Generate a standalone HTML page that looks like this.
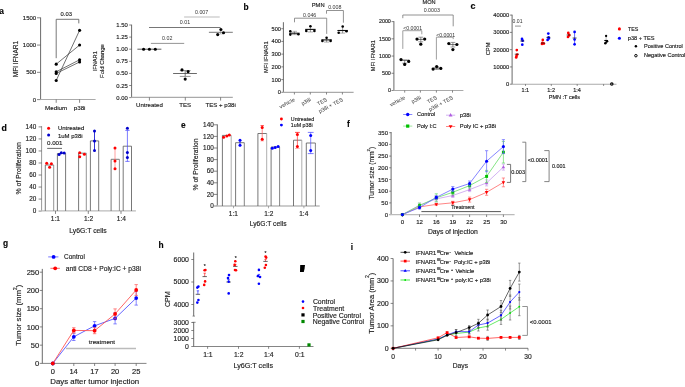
<!DOCTYPE html>
<html><head><meta charset="utf-8"><style>
html,body{margin:0;padding:0;background:#fff;overflow:hidden;}
svg{display:block;font-family:"Liberation Sans", sans-serif;filter:blur(0.3px);}
text{stroke:#222;stroke-width:0.15px;}
text.l{stroke:none;}
</style></head><body>
<svg width="685" height="387" viewBox="0 0 685 387">
<rect width="685" height="387" fill="#fff"/>
<text x="-0.68" y="13.67" font-size="8.4" font-weight="bold" fill="#000">a</text>
<text x="243.53" y="10" font-size="8.4" font-weight="bold" fill="#000">b</text>
<text x="470.4" y="8.73" font-size="9" font-weight="bold" fill="#000">c</text>
<text x="1.47" y="131.25" font-size="8.8" font-weight="bold" fill="#000">d</text>
<text x="180.94" y="128.12" font-size="8.4" font-weight="bold" fill="#000">e</text>
<text x="346.97" y="127.45" font-size="8.4" font-weight="bold" fill="#000">f</text>
<text x="2.99" y="245.62" font-size="8.4" font-weight="bold" fill="#000">g</text>
<text x="158.45" y="247.94" font-size="8.4" font-weight="bold" fill="#000">h</text>
<text x="350.84" y="249.59" font-size="8.4" font-weight="bold" fill="#000">i</text>
<line x1="40.6" y1="99.6" x2="40.6" y2="17.5" stroke="#444" stroke-width="0.8"/>
<line x1="37" y1="99.6" x2="40.6" y2="99.6" stroke="#555" stroke-width="0.7"/>
<text x="32.85" y="101.67" font-size="6" fill="#222">0</text>
<line x1="37" y1="72.33" x2="40.6" y2="72.33" stroke="#555" stroke-width="0.7"/>
<text x="26.18" y="74.4" font-size="6" fill="#222">500</text>
<line x1="37" y1="45.07" x2="40.6" y2="45.07" stroke="#555" stroke-width="0.7"/>
<text x="22.84" y="47.14" font-size="6" fill="#222">1000</text>
<line x1="37" y1="17.8" x2="40.6" y2="17.8" stroke="#555" stroke-width="0.7"/>
<text x="22.84" y="19.87" font-size="6" fill="#222">1500</text>
<line x1="40.2" y1="99.5" x2="95.6" y2="99.5" stroke="#aaa" stroke-width="1.1"/>
<line x1="56.2" y1="99.5" x2="56.2" y2="102.8" stroke="#555" stroke-width="0.7"/>
<line x1="79.6" y1="99.5" x2="79.6" y2="102.8" stroke="#555" stroke-width="0.7"/>
<text x="45.03" y="110.11" font-size="6.25" fill="#222">Medium</text>
<text x="73.7" y="110.11" font-size="6.25" fill="#222">p38i</text>
<text x="0" y="0" font-size="6.58" fill="#222" transform="translate(18.12 77.29) rotate(-90)">MFI IFNAR1</text>
<path d="M56.2 58.2 V19.3 H78.8 V23.4" stroke="#555" stroke-width="0.8" fill="none"/>
<text x="60.62" y="15.77" font-size="5.85" fill="#222">0.03</text>
<line x1="56.2" y1="64.15" x2="79.6" y2="45.07" stroke="#333" stroke-width="0.7"/>
<line x1="56.2" y1="71.79" x2="79.6" y2="59.79" stroke="#333" stroke-width="0.7"/>
<line x1="56.2" y1="73.42" x2="79.6" y2="61.97" stroke="#333" stroke-width="0.7"/>
<line x1="56.2" y1="80.51" x2="79.6" y2="30.34" stroke="#333" stroke-width="0.7"/>
<circle cx="56.2" cy="64.15" r="1.55" fill="#000" stroke="none" stroke-width="0"/>
<circle cx="56.2" cy="71.79" r="1.55" fill="#000" stroke="none" stroke-width="0"/>
<circle cx="56.2" cy="73.42" r="1.55" fill="#000" stroke="none" stroke-width="0"/>
<circle cx="56.2" cy="80.51" r="1.55" fill="#000" stroke="none" stroke-width="0"/>
<circle cx="79.6" cy="45.07" r="1.55" fill="#000" stroke="none" stroke-width="0"/>
<circle cx="79.6" cy="59.79" r="1.55" fill="#000" stroke="none" stroke-width="0"/>
<circle cx="79.6" cy="61.97" r="1.55" fill="#000" stroke="none" stroke-width="0"/>
<circle cx="79.6" cy="30.34" r="1.55" fill="#000" stroke="none" stroke-width="0"/>
<line x1="131.6" y1="97.5" x2="131.6" y2="24.7" stroke="#444" stroke-width="0.8"/>
<line x1="129.2" y1="97.6" x2="131.6" y2="97.6" stroke="#555" stroke-width="0.7"/>
<text x="116.3" y="99.64" font-size="5.9" fill="#222">0.00</text>
<line x1="129.2" y1="85.5" x2="131.6" y2="85.5" stroke="#555" stroke-width="0.7"/>
<text x="116.32" y="87.54" font-size="5.9" fill="#222">0.25</text>
<line x1="129.2" y1="73.4" x2="131.6" y2="73.4" stroke="#555" stroke-width="0.7"/>
<text x="116.3" y="75.44" font-size="5.9" fill="#222">0.50</text>
<line x1="129.2" y1="61.3" x2="131.6" y2="61.3" stroke="#555" stroke-width="0.7"/>
<text x="116.32" y="63.34" font-size="5.9" fill="#222">0.75</text>
<line x1="129.2" y1="49.2" x2="131.6" y2="49.2" stroke="#555" stroke-width="0.7"/>
<text x="116.3" y="51.24" font-size="5.9" fill="#222">1.00</text>
<line x1="129.2" y1="37.1" x2="131.6" y2="37.1" stroke="#555" stroke-width="0.7"/>
<text x="116.32" y="39.14" font-size="5.9" fill="#222">1.25</text>
<line x1="129.2" y1="25" x2="131.6" y2="25" stroke="#555" stroke-width="0.7"/>
<text x="116.3" y="27.04" font-size="5.9" fill="#222">1.50</text>
<line x1="131.2" y1="97.4" x2="232.8" y2="97.4" stroke="#aaa" stroke-width="1.1"/>
<line x1="149.4" y1="97.4" x2="149.4" y2="100.6" stroke="#555" stroke-width="0.7"/>
<line x1="185.3" y1="97.4" x2="185.3" y2="100.6" stroke="#555" stroke-width="0.7"/>
<line x1="220.6" y1="97.4" x2="220.6" y2="100.6" stroke="#555" stroke-width="0.7"/>
<text x="136.07" y="106.85" font-size="6.1" fill="#222">Untreated</text>
<text x="179.34" y="106.85" font-size="6.1" fill="#222">TES</text>
<text x="205.56" y="106.85" font-size="6.1" fill="#222">TES + p38i</text>
<text x="0" y="0" font-size="5.65" fill="#222" transform="translate(96.55 71.27) rotate(-90)">IFNAR1</text>
<text x="0" y="0" font-size="5.91" fill="#222" transform="translate(103.54 77.93) rotate(-90)">Fold Change</text>
<line x1="137.4" y1="49.2" x2="161.4" y2="49.2" stroke="#333" stroke-width="0.8"/>
<circle cx="143.6" cy="49.2" r="1.55" fill="#000" stroke="none" stroke-width="0"/>
<circle cx="149.4" cy="49.2" r="1.55" fill="#000" stroke="none" stroke-width="0"/>
<circle cx="155.3" cy="49.2" r="1.55" fill="#000" stroke="none" stroke-width="0"/>
<line x1="173.1" y1="73.5" x2="196.9" y2="73.5" stroke="#444" stroke-width="0.8"/>
<line x1="185.2" y1="70.6" x2="185.2" y2="76.4" stroke="#444" stroke-width="0.7"/>
<line x1="179.8" y1="70.6" x2="190.6" y2="70.6" stroke="#666" stroke-width="0.7"/>
<line x1="179.8" y1="76.4" x2="190.6" y2="76.4" stroke="#666" stroke-width="0.7"/>
<circle cx="182" cy="69.9" r="1.55" fill="#000" stroke="none" stroke-width="0"/>
<circle cx="188.1" cy="71.6" r="1.55" fill="#000" stroke="none" stroke-width="0"/>
<circle cx="185.2" cy="79.1" r="1.55" fill="#000" stroke="none" stroke-width="0"/>
<line x1="208.9" y1="32.3" x2="232.8" y2="32.3" stroke="#555" stroke-width="0.8"/>
<line x1="220.6" y1="30.8" x2="220.6" y2="34" stroke="#888" stroke-width="0.6"/>
<line x1="218" y1="34" x2="223.2" y2="34" stroke="#bbb" stroke-width="0.7"/>
<circle cx="220.9" cy="29.5" r="1.55" fill="#000" stroke="none" stroke-width="0"/>
<circle cx="217.7" cy="34.6" r="1.55" fill="#000" stroke="none" stroke-width="0"/>
<circle cx="223.5" cy="32.7" r="1.55" fill="#000" stroke="none" stroke-width="0"/>
<line x1="150.9" y1="43.4" x2="184.2" y2="43.4" stroke="#888" stroke-width="0.9"/>
<text x="162.07" y="40.28" font-size="5.3" fill="#333" class="l">0.02</text>
<line x1="149" y1="27.5" x2="220.6" y2="27.5" stroke="#666" stroke-width="0.9"/>
<text x="179.77" y="24.33" font-size="5.3" fill="#333" class="l">0.01</text>
<line x1="184.1" y1="17" x2="219.7" y2="17" stroke="#bbb" stroke-width="1.1"/>
<text x="195" y="14.13" font-size="5.3" fill="#333" class="l">0.007</text>
<line x1="283.4" y1="92.4" x2="283.4" y2="22.2" stroke="#444" stroke-width="0.8"/>
<line x1="281.3" y1="92.3" x2="283.4" y2="92.3" stroke="#555" stroke-width="0.7"/>
<text x="277.75" y="94.23" font-size="5.6" fill="#222">0</text>
<line x1="281.3" y1="79.58" x2="283.4" y2="79.58" stroke="#555" stroke-width="0.7"/>
<text x="271.53" y="81.51" font-size="5.6" fill="#222">100</text>
<line x1="281.3" y1="66.86" x2="283.4" y2="66.86" stroke="#555" stroke-width="0.7"/>
<text x="271.53" y="68.79" font-size="5.6" fill="#222">200</text>
<line x1="281.3" y1="54.14" x2="283.4" y2="54.14" stroke="#555" stroke-width="0.7"/>
<text x="271.53" y="56.07" font-size="5.6" fill="#222">300</text>
<line x1="281.3" y1="41.42" x2="283.4" y2="41.42" stroke="#555" stroke-width="0.7"/>
<text x="271.53" y="43.35" font-size="5.6" fill="#222">400</text>
<line x1="281.3" y1="28.7" x2="283.4" y2="28.7" stroke="#555" stroke-width="0.7"/>
<text x="271.53" y="30.63" font-size="5.6" fill="#222">500</text>
<line x1="283" y1="92.4" x2="353.6" y2="92.4" stroke="#aaa" stroke-width="1.1"/>
<line x1="294.4" y1="92.4" x2="294.4" y2="94.5" stroke="#555" stroke-width="0.7"/>
<line x1="310.3" y1="92.4" x2="310.3" y2="94.5" stroke="#555" stroke-width="0.7"/>
<line x1="326.5" y1="92.4" x2="326.5" y2="94.5" stroke="#555" stroke-width="0.7"/>
<line x1="342.4" y1="92.4" x2="342.4" y2="94.5" stroke="#555" stroke-width="0.7"/>
<text x="0" y="0" font-size="5.7" fill="#222" transform="translate(267.62 73.02) rotate(-90)">MFI IFNAR1</text>
<text x="311.78" y="7.29" font-size="5.78" fill="#222">PMN</text>
<text x="-16.57" y="0" font-size="5.4" fill="#333" transform="translate(295.2 100.9) rotate(-28)" class="l">vehicle</text>
<text x="-9.84" y="0" font-size="5.4" fill="#333" transform="translate(311.1 100.9) rotate(-28)" class="l">p38i</text>
<text x="-10.25" y="0" font-size="5.4" fill="#333" transform="translate(327.3 100.9) rotate(-28)" class="l">TES</text>
<text x="-26.52" y="0" font-size="5.4" fill="#333" transform="translate(343.2 100.9) rotate(-28)" class="l">p38i + TES</text>
<path d="M294.5 22.3 V18.2 H326.7 V33.9" stroke="#777" stroke-width="0.8" fill="none"/>
<text x="303.03" y="16.58" font-size="5.3" fill="#333" class="l">0.046</text>
<path d="M326.5 13.7 V10.5 H343.4 V22.7" stroke="#777" stroke-width="0.8" fill="none"/>
<text x="328.18" y="9.28" font-size="5.3" fill="#333" class="l">0.008</text>
<line x1="294.4" y1="31.3" x2="294.4" y2="34.6" stroke="#555" stroke-width="0.6"/>
<line x1="291.8" y1="34.6" x2="297" y2="34.6" stroke="#777" stroke-width="0.6"/>
<line x1="289.2" y1="33.2" x2="299.6" y2="33.2" stroke="#111" stroke-width="1.1"/>
<circle cx="290.3" cy="31.3" r="1.3" fill="#000" stroke="none" stroke-width="0"/>
<circle cx="290.3" cy="34.6" r="1.3" fill="#000" stroke="none" stroke-width="0"/>
<circle cx="298.4" cy="34.2" r="1.3" fill="#000" stroke="none" stroke-width="0"/>
<line x1="292.5" y1="31.3" x2="297" y2="31.3" stroke="#888" stroke-width="0.6"/>
<line x1="310.4" y1="26.3" x2="310.4" y2="32" stroke="#555" stroke-width="0.6"/>
<line x1="307.8" y1="32" x2="313" y2="32" stroke="#777" stroke-width="0.6"/>
<line x1="305.2" y1="29.4" x2="315.6" y2="29.4" stroke="#111" stroke-width="1.1"/>
<circle cx="310.4" cy="26.3" r="1.3" fill="#000" stroke="none" stroke-width="0"/>
<circle cx="306.3" cy="30.9" r="1.3" fill="#000" stroke="none" stroke-width="0"/>
<circle cx="314.4" cy="30.9" r="1.3" fill="#000" stroke="none" stroke-width="0"/>
<line x1="326.6" y1="37.8" x2="326.6" y2="42.1" stroke="#555" stroke-width="0.6"/>
<line x1="324" y1="42.1" x2="329.2" y2="42.1" stroke="#777" stroke-width="0.6"/>
<line x1="321.4" y1="39.9" x2="331.8" y2="39.9" stroke="#111" stroke-width="1.1"/>
<circle cx="326.6" cy="37.8" r="1.3" fill="#000" stroke="none" stroke-width="0"/>
<circle cx="322.4" cy="40.9" r="1.3" fill="#000" stroke="none" stroke-width="0"/>
<circle cx="330.6" cy="40.9" r="1.3" fill="#000" stroke="none" stroke-width="0"/>
<line x1="342.6" y1="26.5" x2="342.6" y2="33.1" stroke="#555" stroke-width="0.6"/>
<line x1="340" y1="33.1" x2="345.2" y2="33.1" stroke="#777" stroke-width="0.6"/>
<line x1="337.4" y1="30.5" x2="347.8" y2="30.5" stroke="#111" stroke-width="1.1"/>
<circle cx="342.7" cy="26.5" r="1.3" fill="#000" stroke="none" stroke-width="0"/>
<circle cx="338.7" cy="32.8" r="1.3" fill="#000" stroke="none" stroke-width="0"/>
<circle cx="346.5" cy="31.2" r="1.3" fill="#000" stroke="none" stroke-width="0"/>
<line x1="393.9" y1="90.5" x2="393.9" y2="21.2" stroke="#444" stroke-width="0.8"/>
<line x1="391.5" y1="90.5" x2="393.9" y2="90.5" stroke="#555" stroke-width="0.7"/>
<text x="387.88" y="92.35" font-size="5.35" fill="#222">0</text>
<line x1="391.5" y1="73.28" x2="393.9" y2="73.28" stroke="#555" stroke-width="0.7"/>
<text x="381.93" y="75.12" font-size="5.35" fill="#222">500</text>
<line x1="391.5" y1="56.05" x2="393.9" y2="56.05" stroke="#555" stroke-width="0.7"/>
<text x="378.96" y="57.9" font-size="5.35" fill="#222">1000</text>
<line x1="391.5" y1="38.82" x2="393.9" y2="38.82" stroke="#555" stroke-width="0.7"/>
<text x="378.96" y="40.67" font-size="5.35" fill="#222">1500</text>
<line x1="391.5" y1="21.6" x2="393.9" y2="21.6" stroke="#555" stroke-width="0.7"/>
<text x="378.96" y="23.45" font-size="5.35" fill="#222">2000</text>
<line x1="393.5" y1="90.5" x2="463.4" y2="90.5" stroke="#aaa" stroke-width="1.1"/>
<line x1="404.7" y1="90.5" x2="404.7" y2="92.6" stroke="#555" stroke-width="0.7"/>
<line x1="420.4" y1="90.5" x2="420.4" y2="92.6" stroke="#555" stroke-width="0.7"/>
<line x1="436.4" y1="90.5" x2="436.4" y2="92.6" stroke="#555" stroke-width="0.7"/>
<line x1="452.5" y1="90.5" x2="452.5" y2="92.6" stroke="#555" stroke-width="0.7"/>
<text x="0" y="0" font-size="5.59" fill="#222" transform="translate(374.88 71.21) rotate(-90)">MFI IFNAR1</text>
<text x="422.59" y="3.92" font-size="5.58" fill="#222">MON</text>
<text x="-16.57" y="0" font-size="5.4" fill="#333" transform="translate(405.5 99) rotate(-28)" class="l">vehicle</text>
<text x="-9.84" y="0" font-size="5.4" fill="#333" transform="translate(421.2 99) rotate(-28)" class="l">p38i</text>
<text x="-10.25" y="0" font-size="5.4" fill="#333" transform="translate(437.2 99) rotate(-28)" class="l">TES</text>
<text x="-26.52" y="0" font-size="5.4" fill="#333" transform="translate(453.3 99) rotate(-28)" class="l">p38i + TES</text>
<path d="M402.8 18.2 V15.0 H453.2 V26.3" stroke="#777" stroke-width="0.8" fill="none"/>
<text x="423.71" y="12.23" font-size="5.3" fill="#333" class="l">0.0003</text>
<path d="M402.8 48.9 V30.7 H421.8 V34.3" stroke="#888" stroke-width="0.8" fill="none"/>
<text x="403.23" y="30.09" font-size="5.2" fill="#333" class="l">&lt;0.0001</text>
<path d="M436.4 59.6 V37.2 H453.2 V39.1" stroke="#888" stroke-width="0.8" fill="none"/>
<text x="436.18" y="36.99" font-size="5.2" fill="#333" class="l">&lt;0.0001</text>
<line x1="399.9" y1="60.2" x2="409.5" y2="60.2" stroke="#333" stroke-width="0.7"/>
<line x1="404.7" y1="60.2" x2="404.7" y2="63.2" stroke="#444" stroke-width="0.6"/>
<line x1="402.3" y1="60.2" x2="407.1" y2="60.2" stroke="#555" stroke-width="0.6"/>
<line x1="402.3" y1="63.2" x2="407.1" y2="63.2" stroke="#555" stroke-width="0.6"/>
<circle cx="401" cy="59.6" r="1.6" fill="#000" stroke="none" stroke-width="0"/>
<circle cx="408.7" cy="61.4" r="1.6" fill="#000" stroke="none" stroke-width="0"/>
<circle cx="404.7" cy="64.4" r="1.6" fill="#000" stroke="none" stroke-width="0"/>
<line x1="416" y1="39.4" x2="425.6" y2="39.4" stroke="#333" stroke-width="0.7"/>
<line x1="420.8" y1="37.2" x2="420.8" y2="41.8" stroke="#444" stroke-width="0.6"/>
<line x1="418.4" y1="37.2" x2="423.2" y2="37.2" stroke="#555" stroke-width="0.6"/>
<line x1="418.4" y1="41.8" x2="423.2" y2="41.8" stroke="#555" stroke-width="0.6"/>
<circle cx="417" cy="39.1" r="1.6" fill="#000" stroke="none" stroke-width="0"/>
<circle cx="424.7" cy="39.1" r="1.6" fill="#000" stroke="none" stroke-width="0"/>
<circle cx="420.8" cy="44.2" r="1.6" fill="#000" stroke="none" stroke-width="0"/>
<line x1="431.9" y1="68.2" x2="441.5" y2="68.2" stroke="#333" stroke-width="0.7"/>
<line x1="436.7" y1="67.2" x2="436.7" y2="69.4" stroke="#444" stroke-width="0.6"/>
<line x1="434.3" y1="67.2" x2="439.1" y2="67.2" stroke="#555" stroke-width="0.6"/>
<line x1="434.3" y1="69.4" x2="439.1" y2="69.4" stroke="#555" stroke-width="0.6"/>
<circle cx="433.1" cy="69.1" r="1.6" fill="#000" stroke="none" stroke-width="0"/>
<circle cx="436.7" cy="66.5" r="1.6" fill="#000" stroke="none" stroke-width="0"/>
<circle cx="440.8" cy="68.4" r="1.6" fill="#000" stroke="none" stroke-width="0"/>
<line x1="448.1" y1="44.6" x2="457.7" y2="44.6" stroke="#333" stroke-width="0.7"/>
<line x1="452.9" y1="42.4" x2="452.9" y2="47" stroke="#444" stroke-width="0.6"/>
<line x1="450.5" y1="42.4" x2="455.3" y2="42.4" stroke="#555" stroke-width="0.6"/>
<line x1="450.5" y1="47" x2="455.3" y2="47" stroke="#555" stroke-width="0.6"/>
<circle cx="448.8" cy="43.5" r="1.6" fill="#000" stroke="none" stroke-width="0"/>
<circle cx="456.9" cy="44.5" r="1.6" fill="#000" stroke="none" stroke-width="0"/>
<circle cx="452.9" cy="49.6" r="1.6" fill="#000" stroke="none" stroke-width="0"/>
<line x1="512.1" y1="84.2" x2="512.1" y2="14.7" stroke="#444" stroke-width="0.8"/>
<line x1="509.8" y1="84.2" x2="512.1" y2="84.2" stroke="#555" stroke-width="0.7"/>
<text x="506.08" y="86.18" font-size="5.75" fill="#222">0</text>
<line x1="509.8" y1="66.93" x2="512.1" y2="66.93" stroke="#555" stroke-width="0.7"/>
<text x="493.28" y="68.91" font-size="5.75" fill="#222">10000</text>
<line x1="509.8" y1="49.65" x2="512.1" y2="49.65" stroke="#555" stroke-width="0.7"/>
<text x="493.28" y="51.63" font-size="5.75" fill="#222">20000</text>
<line x1="509.8" y1="32.38" x2="512.1" y2="32.38" stroke="#555" stroke-width="0.7"/>
<text x="493.28" y="34.36" font-size="5.75" fill="#222">30000</text>
<line x1="509.8" y1="15.1" x2="512.1" y2="15.1" stroke="#555" stroke-width="0.7"/>
<text x="493.28" y="17.08" font-size="5.75" fill="#222">40000</text>
<line x1="511.7" y1="84.2" x2="616.5" y2="84.2" stroke="#aaa" stroke-width="1.1"/>
<line x1="525.5" y1="84.2" x2="525.5" y2="85.9" stroke="#555" stroke-width="0.7"/>
<line x1="551.3" y1="84.2" x2="551.3" y2="85.9" stroke="#555" stroke-width="0.7"/>
<line x1="577.2" y1="84.2" x2="577.2" y2="85.9" stroke="#555" stroke-width="0.7"/>
<line x1="603.6" y1="84.2" x2="603.6" y2="85.9" stroke="#555" stroke-width="0.7"/>
<text x="521.5" y="92.4" font-size="5.5" fill="#222">1:1</text>
<text x="547.31" y="92.4" font-size="5.5" fill="#222">1:2</text>
<text x="573.15" y="92.4" font-size="5.5" fill="#222">1:4</text>
<text x="548.8" y="99.31" font-size="5.53" fill="#222">PMN :T cells</text>
<text x="0" y="0" font-size="5.74" fill="#222" transform="translate(489.83 55.34) rotate(-90)">CPM</text>
<text x="512.61" y="23.11" font-size="5.1" fill="#333" class="l">0.01</text>
<line x1="515" y1="26.1" x2="520.9" y2="26.1" stroke="#666" stroke-width="0.7"/>
<circle cx="516.8" cy="50.1" r="1.35" fill="#f00" stroke="none" stroke-width="0"/>
<circle cx="517.2" cy="54.5" r="1.35" fill="#f00" stroke="none" stroke-width="0"/>
<circle cx="516.5" cy="56" r="1.35" fill="#f00" stroke="none" stroke-width="0"/>
<circle cx="516.2" cy="57.4" r="1.35" fill="#f00" stroke="none" stroke-width="0"/>
<line x1="514.8" y1="54.2" x2="518.8" y2="54.2" stroke="#111" stroke-width="0.7"/>
<circle cx="522" cy="38.9" r="1.35" fill="#00f" stroke="none" stroke-width="0"/>
<circle cx="522.6" cy="40.7" r="1.35" fill="#00f" stroke="none" stroke-width="0"/>
<circle cx="522.3" cy="44.7" r="1.35" fill="#00f" stroke="none" stroke-width="0"/>
<line x1="520.3" y1="41" x2="524.3" y2="41" stroke="#111" stroke-width="0.7"/>
<circle cx="542.8" cy="39.9" r="1.35" fill="#f00" stroke="none" stroke-width="0"/>
<circle cx="542.5" cy="42.8" r="1.35" fill="#f00" stroke="none" stroke-width="0"/>
<circle cx="543.9" cy="43.6" r="1.35" fill="#f00" stroke="none" stroke-width="0"/>
<circle cx="542" cy="43.9" r="1.35" fill="#f00" stroke="none" stroke-width="0"/>
<line x1="540.9" y1="43.1" x2="544.9" y2="43.1" stroke="#111" stroke-width="0.7"/>
<circle cx="548.3" cy="33.6" r="1.35" fill="#00f" stroke="none" stroke-width="0"/>
<circle cx="548.6" cy="37.4" r="1.35" fill="#00f" stroke="none" stroke-width="0"/>
<circle cx="547.6" cy="39.9" r="1.35" fill="#00f" stroke="none" stroke-width="0"/>
<circle cx="548.9" cy="38.5" r="1.35" fill="#00f" stroke="none" stroke-width="0"/>
<line x1="546.4" y1="37.4" x2="550.4" y2="37.4" stroke="#111" stroke-width="0.7"/>
<circle cx="568.3" cy="32.9" r="1.35" fill="#f00" stroke="none" stroke-width="0"/>
<circle cx="569.1" cy="34.8" r="1.35" fill="#f00" stroke="none" stroke-width="0"/>
<circle cx="568" cy="37" r="1.35" fill="#f00" stroke="none" stroke-width="0"/>
<circle cx="569.1" cy="35.5" r="1.35" fill="#f00" stroke="none" stroke-width="0"/>
<line x1="566.6" y1="35" x2="570.6" y2="35" stroke="#111" stroke-width="0.7"/>
<line x1="574.6" y1="31.9" x2="574.6" y2="44.3" stroke="#00f" stroke-width="0.6"/>
<circle cx="574.6" cy="31.9" r="1.35" fill="#00f" stroke="none" stroke-width="0"/>
<circle cx="574.6" cy="39.5" r="1.35" fill="#00f" stroke="none" stroke-width="0"/>
<circle cx="574.6" cy="44.3" r="1.35" fill="#00f" stroke="none" stroke-width="0"/>
<line x1="572.6" y1="38" x2="576.6" y2="38" stroke="#111" stroke-width="0.7"/>
<line x1="606.1" y1="36" x2="606.1" y2="40.4" stroke="#999" stroke-width="0.6"/>
<circle cx="606.1" cy="36" r="1.15" fill="#000" stroke="none" stroke-width="0"/>
<line x1="604.3" y1="40.5" x2="607.9" y2="40.5" stroke="#000" stroke-width="1.1"/>
<line x1="607.3" y1="40.8" x2="605.3" y2="43.3" stroke="#000" stroke-width="1.5"/>
<circle cx="607.1" cy="41.3" r="1.2" fill="#000" stroke="none" stroke-width="0"/>
<circle cx="605.3" cy="43.2" r="1.25" fill="#000" stroke="none" stroke-width="0"/>
<circle cx="611.8" cy="84" r="1.75" fill="#000" stroke="none" stroke-width="0"/>
<circle cx="611.8" cy="84" r="0.6" fill="#fff" stroke="none" stroke-width="0"/>
<circle cx="619.4" cy="28.9" r="1.55" fill="#f00" stroke="none" stroke-width="0"/>
<text x="628.03" y="30.83" font-size="5.3" fill="#222">TES</text>
<circle cx="619.4" cy="38.3" r="1.55" fill="#00f" stroke="none" stroke-width="0"/>
<text x="627.78" y="40.35" font-size="5.65" fill="#222">p38 + TES</text>
<circle cx="635.9" cy="46.2" r="1.25" fill="#000" stroke="none" stroke-width="0"/>
<text x="643.99" y="47.96" font-size="5.55" fill="#222">Positive Control</text>
<circle cx="635.9" cy="55.7" r="1.25" fill="#fff" stroke="#000" stroke-width="1"/>
<text x="643.99" y="57.41" font-size="5.55" fill="#222">Negative Control</text>
<line x1="41.6" y1="210.9" x2="41.6" y2="126.1" stroke="#999" stroke-width="1"/>
<line x1="38.6" y1="211.1" x2="41.6" y2="211.1" stroke="#555" stroke-width="0.7"/>
<text x="32.74" y="213.31" font-size="6.4" fill="#222">0</text>
<line x1="38.6" y1="199.07" x2="41.6" y2="199.07" stroke="#555" stroke-width="0.7"/>
<text x="29.18" y="201.28" font-size="6.4" fill="#222">20</text>
<line x1="38.6" y1="187.04" x2="41.6" y2="187.04" stroke="#555" stroke-width="0.7"/>
<text x="29.18" y="189.25" font-size="6.4" fill="#222">40</text>
<line x1="38.6" y1="175.02" x2="41.6" y2="175.02" stroke="#555" stroke-width="0.7"/>
<text x="29.18" y="177.22" font-size="6.4" fill="#222">60</text>
<line x1="38.6" y1="162.99" x2="41.6" y2="162.99" stroke="#555" stroke-width="0.7"/>
<text x="29.18" y="165.2" font-size="6.4" fill="#222">80</text>
<line x1="38.6" y1="150.96" x2="41.6" y2="150.96" stroke="#555" stroke-width="0.7"/>
<text x="25.62" y="153.17" font-size="6.4" fill="#222">100</text>
<line x1="38.6" y1="138.93" x2="41.6" y2="138.93" stroke="#555" stroke-width="0.7"/>
<text x="25.62" y="141.14" font-size="6.4" fill="#222">120</text>
<line x1="38.6" y1="126.9" x2="41.6" y2="126.9" stroke="#555" stroke-width="0.7"/>
<text x="25.62" y="129.11" font-size="6.4" fill="#222">140</text>
<line x1="41.1" y1="210.9" x2="135.9" y2="210.9" stroke="#bbb" stroke-width="1.2"/>
<line x1="55.5" y1="210.9" x2="55.5" y2="213.9" stroke="#555" stroke-width="0.7"/>
<line x1="88.3" y1="210.9" x2="88.3" y2="213.9" stroke="#555" stroke-width="0.7"/>
<line x1="121" y1="210.9" x2="121" y2="213.9" stroke="#555" stroke-width="0.7"/>
<text x="50.72" y="221.28" font-size="6.6" fill="#222">1:1</text>
<text x="83.93" y="221.28" font-size="6.6" fill="#222">1:2</text>
<text x="116.86" y="221.28" font-size="6.6" fill="#222">1:4</text>
<text x="69.29" y="232.85" font-size="6.82" fill="#222">Ly6G:T cells</text>
<text x="0" y="0" font-size="6.87" fill="#222" transform="translate(20.87 194.4) rotate(-90)">% of Proliferation</text>
<path d="M45.3 210.9 V165 H53.7" stroke="#555" stroke-width="0.8" fill="none"/>
<line x1="53.7" y1="165" x2="53.7" y2="210.9" stroke="#777" stroke-width="0.8"/>
<path d="M57.4 210.9 V153.5 H65.6" stroke="#555" stroke-width="0.8" fill="none"/>
<line x1="65.6" y1="153.5" x2="65.6" y2="210.9" stroke="#555" stroke-width="0.8"/>
<path d="M78.6 210.9 V153.2 H86.3" stroke="#555" stroke-width="0.8" fill="none"/>
<line x1="86.3" y1="153.2" x2="86.3" y2="210.9" stroke="#777" stroke-width="0.8"/>
<path d="M90.4 210.9 V140.9 H98.7" stroke="#555" stroke-width="0.8" fill="none"/>
<line x1="98.7" y1="140.9" x2="98.7" y2="210.9" stroke="#555" stroke-width="0.8"/>
<path d="M111.1 210.9 V159.3 H119.4" stroke="#555" stroke-width="0.8" fill="none"/>
<line x1="119.4" y1="159.3" x2="119.4" y2="210.9" stroke="#777" stroke-width="0.8"/>
<path d="M123.2 210.9 V146.2 H131.5" stroke="#555" stroke-width="0.8" fill="none"/>
<line x1="131.5" y1="146.2" x2="131.5" y2="210.9" stroke="#555" stroke-width="0.8"/>
<circle cx="46.7" cy="163.3" r="1.5" fill="#f00" stroke="none" stroke-width="0"/>
<circle cx="51.4" cy="163.7" r="1.5" fill="#f00" stroke="none" stroke-width="0"/>
<circle cx="49.6" cy="167.3" r="1.5" fill="#f00" stroke="none" stroke-width="0"/>
<circle cx="59.1" cy="154.5" r="1.5" fill="#00c" stroke="none" stroke-width="0"/>
<circle cx="61.3" cy="152.7" r="1.5" fill="#00c" stroke="none" stroke-width="0"/>
<circle cx="64.2" cy="153" r="1.5" fill="#00c" stroke="none" stroke-width="0"/>
<circle cx="79.7" cy="152.7" r="1.5" fill="#f00" stroke="none" stroke-width="0"/>
<circle cx="84.4" cy="154.2" r="1.5" fill="#f00" stroke="none" stroke-width="0"/>
<circle cx="79.7" cy="156.7" r="1.5" fill="#f00" stroke="none" stroke-width="0"/>
<line x1="94.5" y1="131.1" x2="94.5" y2="150.4" stroke="#00c" stroke-width="0.8"/>
<circle cx="94.5" cy="131.1" r="1.5" fill="#00c" stroke="none" stroke-width="0"/>
<circle cx="94.5" cy="140.9" r="1.5" fill="#00c" stroke="none" stroke-width="0"/>
<circle cx="94.5" cy="150.4" r="1.5" fill="#00c" stroke="none" stroke-width="0"/>
<line x1="115" y1="147.9" x2="115" y2="168.7" stroke="#f88" stroke-width="0.8"/>
<circle cx="115" cy="147.9" r="1.5" fill="#f00" stroke="none" stroke-width="0"/>
<circle cx="115" cy="161.1" r="1.5" fill="#f00" stroke="none" stroke-width="0"/>
<circle cx="115" cy="168.7" r="1.5" fill="#f00" stroke="none" stroke-width="0"/>
<line x1="127.4" y1="130.4" x2="127.4" y2="161.4" stroke="#44f" stroke-width="0.7"/>
<line x1="125.3" y1="130.4" x2="129.6" y2="130.4" stroke="#44f" stroke-width="0.7"/>
<line x1="125.3" y1="161.4" x2="129.6" y2="161.4" stroke="#44f" stroke-width="0.7"/>
<circle cx="127.4" cy="128.2" r="1.5" fill="#00c" stroke="none" stroke-width="0"/>
<circle cx="127.4" cy="152.6" r="1.5" fill="#00c" stroke="none" stroke-width="0"/>
<circle cx="127.4" cy="157.4" r="1.5" fill="#00c" stroke="none" stroke-width="0"/>
<circle cx="48.6" cy="128.2" r="1.5" fill="#f00" stroke="none" stroke-width="0"/>
<text x="57.89" y="130.37" font-size="6" fill="#222">Untreated</text>
<circle cx="48.6" cy="135.1" r="1.5" fill="#00c" stroke="none" stroke-width="0"/>
<text x="57.89" y="137.57" font-size="6" fill="#222">1uM p38i</text>
<text x="47.02" y="145.19" font-size="6.2" fill="#222">0.001</text>
<line x1="47.2" y1="148.4" x2="62" y2="148.4" stroke="#444" stroke-width="0.8"/>
<line x1="217.3" y1="206" x2="217.3" y2="124.4" stroke="#555" stroke-width="0.9"/>
<line x1="213.9" y1="206" x2="217.3" y2="206" stroke="#555" stroke-width="0.7"/>
<text x="210.24" y="208.21" font-size="6.4" fill="#222">0</text>
<line x1="213.9" y1="194.4" x2="217.3" y2="194.4" stroke="#555" stroke-width="0.7"/>
<text x="206.68" y="196.61" font-size="6.4" fill="#222">20</text>
<line x1="213.9" y1="182.8" x2="217.3" y2="182.8" stroke="#555" stroke-width="0.7"/>
<text x="206.68" y="185.01" font-size="6.4" fill="#222">40</text>
<line x1="213.9" y1="171.2" x2="217.3" y2="171.2" stroke="#555" stroke-width="0.7"/>
<text x="206.68" y="173.41" font-size="6.4" fill="#222">60</text>
<line x1="213.9" y1="159.6" x2="217.3" y2="159.6" stroke="#555" stroke-width="0.7"/>
<text x="206.68" y="161.81" font-size="6.4" fill="#222">80</text>
<line x1="213.9" y1="148" x2="217.3" y2="148" stroke="#555" stroke-width="0.7"/>
<text x="203.12" y="150.21" font-size="6.4" fill="#222">100</text>
<line x1="213.9" y1="136.4" x2="217.3" y2="136.4" stroke="#555" stroke-width="0.7"/>
<text x="203.12" y="138.61" font-size="6.4" fill="#222">120</text>
<line x1="213.9" y1="124.8" x2="217.3" y2="124.8" stroke="#555" stroke-width="0.7"/>
<text x="203.12" y="127.01" font-size="6.4" fill="#222">140</text>
<line x1="216.8" y1="206" x2="319.7" y2="206" stroke="#bbb" stroke-width="1.3"/>
<line x1="233.5" y1="206" x2="233.5" y2="208.3" stroke="#888" stroke-width="0.7"/>
<line x1="268.5" y1="206" x2="268.5" y2="208.3" stroke="#888" stroke-width="0.7"/>
<line x1="303.9" y1="206" x2="303.9" y2="208.3" stroke="#888" stroke-width="0.7"/>
<text x="228.79" y="216.04" font-size="6.5" fill="#222">1:1</text>
<text x="264.3" y="216.04" font-size="6.5" fill="#222">1:2</text>
<text x="299.23" y="216.04" font-size="6.5" fill="#222">1:4</text>
<text x="249.71" y="226.21" font-size="6.7" fill="#222">Ly6G:T cells</text>
<text x="0" y="0" font-size="6.83" fill="#222" transform="translate(198.36 190.4) rotate(-90)">% of Proliferation</text>
<path d="M222.4 206 V135.4 H231.2" stroke="#555" stroke-width="0.8" fill="none"/>
<line x1="231.2" y1="135.4" x2="231.2" y2="206" stroke="#999" stroke-width="0.8"/>
<path d="M235.6 206 V142.7 H244.3" stroke="#555" stroke-width="0.8" fill="none"/>
<line x1="244.3" y1="142.7" x2="244.3" y2="206" stroke="#666" stroke-width="0.8"/>
<path d="M257.9 206 V133.5 H266.7" stroke="#555" stroke-width="0.8" fill="none"/>
<line x1="266.7" y1="133.5" x2="266.7" y2="206" stroke="#999" stroke-width="0.8"/>
<path d="M271.1 206 V147 H279.6" stroke="#555" stroke-width="0.8" fill="none"/>
<line x1="279.6" y1="147" x2="279.6" y2="206" stroke="#666" stroke-width="0.8"/>
<path d="M293.5 206 V140.2 H301.8" stroke="#555" stroke-width="0.8" fill="none"/>
<line x1="301.8" y1="140.2" x2="301.8" y2="206" stroke="#999" stroke-width="0.8"/>
<path d="M306.3 206 V143 H315.4" stroke="#555" stroke-width="0.8" fill="none"/>
<line x1="315.4" y1="143" x2="315.4" y2="206" stroke="#666" stroke-width="0.8"/>
<circle cx="223.6" cy="137.3" r="1.5" fill="#f00" stroke="none" stroke-width="0"/>
<circle cx="226.8" cy="136.1" r="1.5" fill="#f00" stroke="none" stroke-width="0"/>
<circle cx="229.3" cy="135.1" r="1.5" fill="#f00" stroke="none" stroke-width="0"/>
<line x1="240" y1="139" x2="240" y2="146.5" stroke="#00f" stroke-width="0.7"/>
<circle cx="240" cy="140.2" r="1.5" fill="#00f" stroke="none" stroke-width="0"/>
<circle cx="240" cy="145.3" r="1.5" fill="#00f" stroke="none" stroke-width="0"/>
<line x1="262.2" y1="125.6" x2="262.2" y2="140.9" stroke="#f55" stroke-width="0.7"/>
<line x1="260.5" y1="125.6" x2="263.9" y2="125.6" stroke="#f00" stroke-width="0.7"/>
<line x1="260.5" y1="140.9" x2="263.9" y2="140.9" stroke="#f88" stroke-width="0.7"/>
<circle cx="262.2" cy="127.6" r="1.5" fill="#f00" stroke="none" stroke-width="0"/>
<circle cx="262.2" cy="139.3" r="1.5" fill="#f00" stroke="none" stroke-width="0"/>
<circle cx="272.3" cy="148.2" r="1.5" fill="#00f" stroke="none" stroke-width="0"/>
<circle cx="275.2" cy="147.4" r="1.5" fill="#00f" stroke="none" stroke-width="0"/>
<circle cx="278.1" cy="146.6" r="1.5" fill="#00f" stroke="none" stroke-width="0"/>
<line x1="297.4" y1="132.4" x2="297.4" y2="148.5" stroke="#f33" stroke-width="0.7"/>
<line x1="295" y1="132.4" x2="299.8" y2="132.4" stroke="#f00" stroke-width="0.7"/>
<line x1="295" y1="148.5" x2="299.8" y2="148.5" stroke="#f99" stroke-width="0.7"/>
<circle cx="297.4" cy="134.6" r="1.5" fill="#f00" stroke="none" stroke-width="0"/>
<circle cx="297.4" cy="146.6" r="1.5" fill="#f00" stroke="none" stroke-width="0"/>
<line x1="310.7" y1="132.4" x2="310.7" y2="153.6" stroke="#55f" stroke-width="0.7"/>
<line x1="307.8" y1="132.4" x2="313.6" y2="132.4" stroke="#44f" stroke-width="0.7"/>
<line x1="307.8" y1="153.6" x2="313.6" y2="153.6" stroke="#44f" stroke-width="0.7"/>
<circle cx="310.7" cy="135.4" r="1.5" fill="#00f" stroke="none" stroke-width="0"/>
<circle cx="310.7" cy="150.4" r="1.5" fill="#00f" stroke="none" stroke-width="0"/>
<circle cx="281.4" cy="119" r="1.45" fill="#f00" stroke="none" stroke-width="0"/>
<text x="290.84" y="121.28" font-size="5.3" fill="#222">Untreated</text>
<circle cx="281.4" cy="125.1" r="1.45" fill="#00f" stroke="none" stroke-width="0"/>
<text x="290.85" y="127.13" font-size="5.3" fill="#222">1uM p38i</text>
<line x1="391.1" y1="214.6" x2="391.1" y2="132" stroke="#444" stroke-width="0.8"/>
<line x1="389.2" y1="214.6" x2="391.1" y2="214.6" stroke="#555" stroke-width="0.7"/>
<text x="384.72" y="216.69" font-size="6.05" fill="#222">0</text>
<line x1="389.2" y1="202.9" x2="391.1" y2="202.9" stroke="#555" stroke-width="0.7"/>
<text x="381.36" y="204.99" font-size="6.05" fill="#222">50</text>
<line x1="389.2" y1="191.2" x2="391.1" y2="191.2" stroke="#555" stroke-width="0.7"/>
<text x="377.99" y="193.29" font-size="6.05" fill="#222">100</text>
<line x1="389.2" y1="179.5" x2="391.1" y2="179.5" stroke="#555" stroke-width="0.7"/>
<text x="377.99" y="181.59" font-size="6.05" fill="#222">150</text>
<line x1="389.2" y1="167.8" x2="391.1" y2="167.8" stroke="#555" stroke-width="0.7"/>
<text x="377.99" y="169.89" font-size="6.05" fill="#222">200</text>
<line x1="389.2" y1="156.1" x2="391.1" y2="156.1" stroke="#555" stroke-width="0.7"/>
<text x="377.99" y="158.19" font-size="6.05" fill="#222">250</text>
<line x1="389.2" y1="144.4" x2="391.1" y2="144.4" stroke="#555" stroke-width="0.7"/>
<text x="377.99" y="146.49" font-size="6.05" fill="#222">300</text>
<line x1="389.2" y1="132.7" x2="391.1" y2="132.7" stroke="#555" stroke-width="0.7"/>
<text x="377.99" y="134.79" font-size="6.05" fill="#222">350</text>
<line x1="389.3" y1="214.6" x2="514.6" y2="214.6" stroke="#bbb" stroke-width="1.2"/>
<line x1="402.4" y1="214.6" x2="402.4" y2="217" stroke="#555" stroke-width="0.7"/>
<text x="400.85" y="223.6" font-size="6.1" fill="#222">0</text>
<line x1="419.5" y1="214.6" x2="419.5" y2="217" stroke="#555" stroke-width="0.7"/>
<text x="416.18" y="223.6" font-size="6.1" fill="#222">12</text>
<line x1="436.3" y1="214.6" x2="436.3" y2="217" stroke="#555" stroke-width="0.7"/>
<text x="432.96" y="223.6" font-size="6.1" fill="#222">16</text>
<line x1="452.8" y1="214.6" x2="452.8" y2="217" stroke="#555" stroke-width="0.7"/>
<text x="449.47" y="223.6" font-size="6.1" fill="#222">19</text>
<line x1="469.6" y1="214.6" x2="469.6" y2="217" stroke="#555" stroke-width="0.7"/>
<text x="466.36" y="223.6" font-size="6.1" fill="#222">22</text>
<line x1="486.6" y1="214.6" x2="486.6" y2="217" stroke="#555" stroke-width="0.7"/>
<text x="483.33" y="223.6" font-size="6.1" fill="#222">25</text>
<line x1="503.4" y1="214.6" x2="503.4" y2="217" stroke="#555" stroke-width="0.7"/>
<text x="500.16" y="223.6" font-size="6.1" fill="#222">30</text>
<text x="427.89" y="233.61" font-size="6.8" fill="#222">Days of injection</text>
<text x="0" y="0" font-size="6.71" fill="#222" transform="translate(373.77 199.6) rotate(-90)">Tumor size (mm<tspan font-size="4.16" dy="-4.16">2</tspan><tspan dy="4.16">)</tspan></text>
<text x="451.14" y="209.03" font-size="5.17" fill="#222">Treatment</text>
<line x1="421.4" y1="211.6" x2="500.9" y2="211.6" stroke="#444" stroke-width="0.9"/>
<polyline points="402.4,214.6 419.5,206.9 436.3,204.4 452.8,202.8 469.6,199.6 486.6,192.3 503.4,182.4" stroke="#ff6666" stroke-width="0.8" fill="none" stroke-linejoin="round"/>
<line x1="419.5" y1="205.9" x2="419.5" y2="207.9" stroke="#ff6666" stroke-width="0.7"/>
<line x1="417.9" y1="205.9" x2="421.1" y2="205.9" stroke="#ff6666" stroke-width="0.7"/>
<line x1="417.9" y1="207.9" x2="421.1" y2="207.9" stroke="#ff6666" stroke-width="0.7"/>
<line x1="436.3" y1="203.4" x2="436.3" y2="205.4" stroke="#ff6666" stroke-width="0.7"/>
<line x1="434.7" y1="203.4" x2="437.9" y2="203.4" stroke="#ff6666" stroke-width="0.7"/>
<line x1="434.7" y1="205.4" x2="437.9" y2="205.4" stroke="#ff6666" stroke-width="0.7"/>
<line x1="452.8" y1="201.3" x2="452.8" y2="204.3" stroke="#ff6666" stroke-width="0.7"/>
<line x1="451.2" y1="201.3" x2="454.4" y2="201.3" stroke="#ff6666" stroke-width="0.7"/>
<line x1="451.2" y1="204.3" x2="454.4" y2="204.3" stroke="#ff6666" stroke-width="0.7"/>
<line x1="469.6" y1="197.1" x2="469.6" y2="202.1" stroke="#ff6666" stroke-width="0.7"/>
<line x1="468" y1="197.1" x2="471.2" y2="197.1" stroke="#ff6666" stroke-width="0.7"/>
<line x1="468" y1="202.1" x2="471.2" y2="202.1" stroke="#ff6666" stroke-width="0.7"/>
<line x1="486.6" y1="189.3" x2="486.6" y2="195.3" stroke="#ff6666" stroke-width="0.7"/>
<line x1="485" y1="189.3" x2="488.2" y2="189.3" stroke="#ff6666" stroke-width="0.7"/>
<line x1="485" y1="195.3" x2="488.2" y2="195.3" stroke="#ff6666" stroke-width="0.7"/>
<line x1="503.4" y1="178" x2="503.4" y2="186.8" stroke="#ff6666" stroke-width="0.7"/>
<line x1="501.8" y1="178" x2="505" y2="178" stroke="#ff6666" stroke-width="0.7"/>
<line x1="501.8" y1="186.8" x2="505" y2="186.8" stroke="#ff6666" stroke-width="0.7"/>
<polygon points="402.4,216.54 404.18,213.36 400.62,213.36" fill="#f00"/>
<polygon points="419.5,208.84 421.28,205.66 417.72,205.66" fill="#f00"/>
<polygon points="436.3,206.34 438.08,203.16 434.52,203.16" fill="#f00"/>
<polygon points="452.8,204.74 454.58,201.56 451.02,201.56" fill="#f00"/>
<polygon points="469.6,201.54 471.38,198.36 467.82,198.36" fill="#f00"/>
<polygon points="486.6,194.24 488.38,191.06 484.82,191.06" fill="#f00"/>
<polygon points="503.4,184.34 505.18,181.16 501.62,181.16" fill="#f00"/>
<polyline points="402.4,214.6 419.5,205.2 436.3,198.9 452.8,195.5 469.6,189.6 486.6,182.9 503.4,167.1" stroke="#c8a0ef" stroke-width="0.8" fill="none" stroke-linejoin="round"/>
<line x1="419.5" y1="203.2" x2="419.5" y2="207.2" stroke="#c8a0ef" stroke-width="0.7"/>
<line x1="417.9" y1="203.2" x2="421.1" y2="203.2" stroke="#c8a0ef" stroke-width="0.7"/>
<line x1="417.9" y1="207.2" x2="421.1" y2="207.2" stroke="#c8a0ef" stroke-width="0.7"/>
<line x1="436.3" y1="195.9" x2="436.3" y2="201.9" stroke="#c8a0ef" stroke-width="0.7"/>
<line x1="434.7" y1="195.9" x2="437.9" y2="195.9" stroke="#c8a0ef" stroke-width="0.7"/>
<line x1="434.7" y1="201.9" x2="437.9" y2="201.9" stroke="#c8a0ef" stroke-width="0.7"/>
<line x1="452.8" y1="193.5" x2="452.8" y2="197.5" stroke="#c8a0ef" stroke-width="0.7"/>
<line x1="451.2" y1="193.5" x2="454.4" y2="193.5" stroke="#c8a0ef" stroke-width="0.7"/>
<line x1="451.2" y1="197.5" x2="454.4" y2="197.5" stroke="#c8a0ef" stroke-width="0.7"/>
<line x1="469.6" y1="187.6" x2="469.6" y2="191.6" stroke="#c8a0ef" stroke-width="0.7"/>
<line x1="468" y1="187.6" x2="471.2" y2="187.6" stroke="#c8a0ef" stroke-width="0.7"/>
<line x1="468" y1="191.6" x2="471.2" y2="191.6" stroke="#c8a0ef" stroke-width="0.7"/>
<line x1="486.6" y1="179.9" x2="486.6" y2="185.9" stroke="#c8a0ef" stroke-width="0.7"/>
<line x1="485" y1="179.9" x2="488.2" y2="179.9" stroke="#c8a0ef" stroke-width="0.7"/>
<line x1="485" y1="185.9" x2="488.2" y2="185.9" stroke="#c8a0ef" stroke-width="0.7"/>
<line x1="503.4" y1="164.1" x2="503.4" y2="170.1" stroke="#c8a0ef" stroke-width="0.7"/>
<line x1="501.8" y1="164.1" x2="505" y2="164.1" stroke="#c8a0ef" stroke-width="0.7"/>
<line x1="501.8" y1="170.1" x2="505" y2="170.1" stroke="#c8a0ef" stroke-width="0.7"/>
<polygon points="402.4,212.66 404.18,215.84 400.62,215.84" fill="#b05ee0"/>
<polygon points="419.5,203.26 421.28,206.44 417.72,206.44" fill="#b05ee0"/>
<polygon points="436.3,196.96 438.08,200.14 434.52,200.14" fill="#b05ee0"/>
<polygon points="452.8,193.56 454.58,196.74 451.02,196.74" fill="#b05ee0"/>
<polygon points="469.6,187.66 471.38,190.84 467.82,190.84" fill="#b05ee0"/>
<polygon points="486.6,180.96 488.38,184.14 484.82,184.14" fill="#b05ee0"/>
<polygon points="503.4,165.16 505.18,168.34 501.62,168.34" fill="#b05ee0"/>
<polyline points="402.4,214.6 419.5,205.6 436.3,197.8 452.8,192.3 469.6,185.6 486.6,176.4 503.4,152.2" stroke="#66dd66" stroke-width="0.8" fill="none" stroke-linejoin="round"/>
<line x1="419.5" y1="203.1" x2="419.5" y2="208.1" stroke="#66dd66" stroke-width="0.7"/>
<line x1="417.9" y1="203.1" x2="421.1" y2="203.1" stroke="#66dd66" stroke-width="0.7"/>
<line x1="417.9" y1="208.1" x2="421.1" y2="208.1" stroke="#66dd66" stroke-width="0.7"/>
<line x1="436.3" y1="193.8" x2="436.3" y2="201.8" stroke="#66dd66" stroke-width="0.7"/>
<line x1="434.7" y1="193.8" x2="437.9" y2="193.8" stroke="#66dd66" stroke-width="0.7"/>
<line x1="434.7" y1="201.8" x2="437.9" y2="201.8" stroke="#66dd66" stroke-width="0.7"/>
<line x1="452.8" y1="189.8" x2="452.8" y2="194.8" stroke="#66dd66" stroke-width="0.7"/>
<line x1="451.2" y1="189.8" x2="454.4" y2="189.8" stroke="#66dd66" stroke-width="0.7"/>
<line x1="451.2" y1="194.8" x2="454.4" y2="194.8" stroke="#66dd66" stroke-width="0.7"/>
<line x1="469.6" y1="183.1" x2="469.6" y2="188.1" stroke="#66dd66" stroke-width="0.7"/>
<line x1="468" y1="183.1" x2="471.2" y2="183.1" stroke="#66dd66" stroke-width="0.7"/>
<line x1="468" y1="188.1" x2="471.2" y2="188.1" stroke="#66dd66" stroke-width="0.7"/>
<line x1="486.6" y1="170.4" x2="486.6" y2="182.4" stroke="#66dd66" stroke-width="0.7"/>
<line x1="485" y1="170.4" x2="488.2" y2="170.4" stroke="#66dd66" stroke-width="0.7"/>
<line x1="485" y1="182.4" x2="488.2" y2="182.4" stroke="#66dd66" stroke-width="0.7"/>
<line x1="503.4" y1="141.4" x2="503.4" y2="163" stroke="#66dd66" stroke-width="0.7"/>
<line x1="501.8" y1="141.4" x2="505" y2="141.4" stroke="#66dd66" stroke-width="0.7"/>
<line x1="501.8" y1="163" x2="505" y2="163" stroke="#66dd66" stroke-width="0.7"/>
<rect x="400.93" y="213.13" width="2.94" height="2.94" fill="#00c000"/>
<rect x="418.03" y="204.13" width="2.94" height="2.94" fill="#00c000"/>
<rect x="434.83" y="196.33" width="2.94" height="2.94" fill="#00c000"/>
<rect x="451.33" y="190.83" width="2.94" height="2.94" fill="#00c000"/>
<rect x="468.13" y="184.13" width="2.94" height="2.94" fill="#00c000"/>
<rect x="485.13" y="174.93" width="2.94" height="2.94" fill="#00c000"/>
<rect x="501.93" y="150.73" width="2.94" height="2.94" fill="#00c000"/>
<polyline points="402.4,214.6 419.5,207.6 436.3,197.4 452.8,189.1 469.6,183.5 486.6,161.2 503.4,146.6" stroke="#6666ff" stroke-width="0.8" fill="none" stroke-linejoin="round"/>
<line x1="419.5" y1="206.1" x2="419.5" y2="209.1" stroke="#6666ff" stroke-width="0.7"/>
<line x1="417.9" y1="206.1" x2="421.1" y2="206.1" stroke="#6666ff" stroke-width="0.7"/>
<line x1="417.9" y1="209.1" x2="421.1" y2="209.1" stroke="#6666ff" stroke-width="0.7"/>
<line x1="436.3" y1="195.9" x2="436.3" y2="198.9" stroke="#6666ff" stroke-width="0.7"/>
<line x1="434.7" y1="195.9" x2="437.9" y2="195.9" stroke="#6666ff" stroke-width="0.7"/>
<line x1="434.7" y1="198.9" x2="437.9" y2="198.9" stroke="#6666ff" stroke-width="0.7"/>
<line x1="452.8" y1="186.6" x2="452.8" y2="191.6" stroke="#6666ff" stroke-width="0.7"/>
<line x1="451.2" y1="186.6" x2="454.4" y2="186.6" stroke="#6666ff" stroke-width="0.7"/>
<line x1="451.2" y1="191.6" x2="454.4" y2="191.6" stroke="#6666ff" stroke-width="0.7"/>
<line x1="469.6" y1="181" x2="469.6" y2="186" stroke="#6666ff" stroke-width="0.7"/>
<line x1="468" y1="181" x2="471.2" y2="181" stroke="#6666ff" stroke-width="0.7"/>
<line x1="468" y1="186" x2="471.2" y2="186" stroke="#6666ff" stroke-width="0.7"/>
<line x1="486.6" y1="150.7" x2="486.6" y2="171.7" stroke="#6666ff" stroke-width="0.7"/>
<line x1="485" y1="150.7" x2="488.2" y2="150.7" stroke="#6666ff" stroke-width="0.7"/>
<line x1="485" y1="171.7" x2="488.2" y2="171.7" stroke="#6666ff" stroke-width="0.7"/>
<line x1="503.4" y1="139.6" x2="503.4" y2="153.6" stroke="#6666ff" stroke-width="0.7"/>
<line x1="501.8" y1="139.6" x2="505" y2="139.6" stroke="#6666ff" stroke-width="0.7"/>
<line x1="501.8" y1="153.6" x2="505" y2="153.6" stroke="#6666ff" stroke-width="0.7"/>
<circle cx="402.4" cy="214.6" r="1.55" fill="#00f" stroke="none" stroke-width="0"/>
<circle cx="419.5" cy="207.6" r="1.55" fill="#00f" stroke="none" stroke-width="0"/>
<circle cx="436.3" cy="197.4" r="1.55" fill="#00f" stroke="none" stroke-width="0"/>
<circle cx="452.8" cy="189.1" r="1.55" fill="#00f" stroke="none" stroke-width="0"/>
<circle cx="469.6" cy="183.5" r="1.55" fill="#00f" stroke="none" stroke-width="0"/>
<circle cx="486.6" cy="161.2" r="1.55" fill="#00f" stroke="none" stroke-width="0"/>
<circle cx="503.4" cy="146.6" r="1.55" fill="#00f" stroke="none" stroke-width="0"/>
<line x1="403.1" y1="114.5" x2="412.3" y2="114.5" stroke="#6666ff" stroke-width="0.8"/>
<circle cx="407.7" cy="114.5" r="1.7" fill="#00f" stroke="none" stroke-width="0"/>
<text x="417.06" y="116.25" font-size="5.65" fill="#222">Control</text>
<line x1="446" y1="115.2" x2="455.2" y2="115.2" stroke="#c8a0ef" stroke-width="0.8"/>
<polygon points="450.6,113.08 452.56,116.56 448.65,116.56" fill="#b05ee0"/>
<text x="459.87" y="117" font-size="5.8" fill="#222">p38i</text>
<line x1="403.1" y1="126.1" x2="412.3" y2="126.1" stroke="#88e088" stroke-width="0.8"/>
<rect x="406.08" y="124.48" width="3.23" height="3.23" fill="#00c000"/>
<text x="416.89" y="128.05" font-size="5.65" fill="#222">Poly I:C</text>
<line x1="446" y1="126.5" x2="455.2" y2="126.5" stroke="#ff6666" stroke-width="0.8"/>
<polygon points="450.6,128.62 452.56,125.14 448.65,125.14" fill="#f00"/>
<text x="459.77" y="128.3" font-size="5.8" fill="#222">Poly IC + p38i</text>
<path d="M506.9 164.4 H510.6 V182.4 H506.9" stroke="#555" stroke-width="0.8" fill="none"/>
<text x="511.13" y="173.81" font-size="5.55" fill="#222">0.003</text>
<path d="M522.3 142.2 H525.8 V181.6 H522.3" stroke="#666" stroke-width="0.8" fill="none"/>
<text x="527.78" y="161.66" font-size="5.55" fill="#222">&lt;0.0001</text>
<path d="M544.3 150.6 H549.1 V181.6 H544.3" stroke="#666" stroke-width="0.8" fill="none"/>
<text x="551.94" y="168.16" font-size="5.4" fill="#222">0.001</text>
<line x1="42.3" y1="363.4" x2="42.3" y2="268.9" stroke="#444" stroke-width="0.8"/>
<line x1="39.7" y1="363.4" x2="42.3" y2="363.4" stroke="#555" stroke-width="0.7"/>
<text x="35.05" y="366" font-size="7.55" fill="#222">0</text>
<line x1="39.7" y1="345.16" x2="42.3" y2="345.16" stroke="#555" stroke-width="0.7"/>
<text x="30.85" y="347.76" font-size="7.55" fill="#222">50</text>
<line x1="39.7" y1="326.92" x2="42.3" y2="326.92" stroke="#555" stroke-width="0.7"/>
<text x="26.65" y="329.52" font-size="7.55" fill="#222">100</text>
<line x1="39.7" y1="308.68" x2="42.3" y2="308.68" stroke="#555" stroke-width="0.7"/>
<text x="26.65" y="311.28" font-size="7.55" fill="#222">150</text>
<line x1="39.7" y1="290.44" x2="42.3" y2="290.44" stroke="#555" stroke-width="0.7"/>
<text x="26.65" y="293.04" font-size="7.55" fill="#222">200</text>
<line x1="39.7" y1="272.2" x2="42.3" y2="272.2" stroke="#555" stroke-width="0.7"/>
<text x="26.65" y="274.8" font-size="7.55" fill="#222">250</text>
<line x1="41.9" y1="363.4" x2="146.5" y2="363.4" stroke="#777" stroke-width="0.9"/>
<line x1="52.8" y1="363.4" x2="52.8" y2="366" stroke="#555" stroke-width="0.7"/>
<text x="50.71" y="374.09" font-size="7.5" fill="#222">0</text>
<line x1="73.8" y1="363.4" x2="73.8" y2="366" stroke="#555" stroke-width="0.7"/>
<text x="69.45" y="374.09" font-size="7.5" fill="#222">14</text>
<line x1="94.6" y1="363.4" x2="94.6" y2="366" stroke="#555" stroke-width="0.7"/>
<text x="90.33" y="374.09" font-size="7.5" fill="#222">17</text>
<line x1="115.1" y1="363.4" x2="115.1" y2="366" stroke="#555" stroke-width="0.7"/>
<text x="110.89" y="374.09" font-size="7.5" fill="#222">20</text>
<line x1="136.2" y1="363.4" x2="136.2" y2="366" stroke="#555" stroke-width="0.7"/>
<text x="132" y="374.09" font-size="7.5" fill="#222">25</text>
<text x="50.31" y="383.85" font-size="7.85" fill="#222">Days after tumor injection</text>
<text x="0" y="0" font-size="7.75" fill="#222" transform="translate(21.47 345.72) rotate(-90)">Tumor size (mm<tspan font-size="4.81" dy="-4.81">2</tspan><tspan dy="4.81">)</tspan></text>
<line x1="65.9" y1="348.5" x2="136" y2="348.5" stroke="#bbb" stroke-width="1.4"/>
<text x="88.86" y="344.38" font-size="6.21" fill="#222">treatment</text>
<polyline points="52.8,363.4 73.8,336.8 94.6,325.8 115.1,318.4 136.2,298.1" stroke="#5555ff" stroke-width="0.9" fill="none" stroke-linejoin="round"/>
<line x1="73.8" y1="333.1" x2="73.8" y2="340.5" stroke="#5555ff" stroke-width="0.7"/>
<line x1="72.1" y1="333.1" x2="75.5" y2="333.1" stroke="#5555ff" stroke-width="0.7"/>
<line x1="72.1" y1="340.5" x2="75.5" y2="340.5" stroke="#5555ff" stroke-width="0.7"/>
<line x1="94.6" y1="321.6" x2="94.6" y2="330" stroke="#5555ff" stroke-width="0.7"/>
<line x1="92.9" y1="321.6" x2="96.3" y2="321.6" stroke="#5555ff" stroke-width="0.7"/>
<line x1="92.9" y1="330" x2="96.3" y2="330" stroke="#5555ff" stroke-width="0.7"/>
<line x1="115.1" y1="312.9" x2="115.1" y2="323.9" stroke="#5555ff" stroke-width="0.7"/>
<line x1="113.4" y1="312.9" x2="116.8" y2="312.9" stroke="#5555ff" stroke-width="0.7"/>
<line x1="113.4" y1="323.9" x2="116.8" y2="323.9" stroke="#5555ff" stroke-width="0.7"/>
<line x1="136.2" y1="291.1" x2="136.2" y2="305.1" stroke="#5555ff" stroke-width="0.7"/>
<line x1="134.5" y1="291.1" x2="137.9" y2="291.1" stroke="#5555ff" stroke-width="0.7"/>
<line x1="134.5" y1="305.1" x2="137.9" y2="305.1" stroke="#5555ff" stroke-width="0.7"/>
<circle cx="52.8" cy="363.4" r="1.9" fill="#00f" stroke="none" stroke-width="0"/>
<circle cx="73.8" cy="336.8" r="1.9" fill="#00f" stroke="none" stroke-width="0"/>
<circle cx="94.6" cy="325.8" r="1.9" fill="#00f" stroke="none" stroke-width="0"/>
<circle cx="115.1" cy="318.4" r="1.9" fill="#00f" stroke="none" stroke-width="0"/>
<circle cx="136.2" cy="298.1" r="1.9" fill="#00f" stroke="none" stroke-width="0"/>
<polyline points="52.8,363.4 73.8,330.4 94.6,330.7 115.1,313.9 136.2,290" stroke="#ff5555" stroke-width="0.9" fill="none" stroke-linejoin="round"/>
<line x1="73.8" y1="327.7" x2="73.8" y2="333.1" stroke="#ff5555" stroke-width="0.7"/>
<line x1="72.1" y1="327.7" x2="75.5" y2="327.7" stroke="#ff5555" stroke-width="0.7"/>
<line x1="72.1" y1="333.1" x2="75.5" y2="333.1" stroke="#ff5555" stroke-width="0.7"/>
<line x1="94.6" y1="327.7" x2="94.6" y2="333.7" stroke="#ff5555" stroke-width="0.7"/>
<line x1="92.9" y1="327.7" x2="96.3" y2="327.7" stroke="#ff5555" stroke-width="0.7"/>
<line x1="92.9" y1="333.7" x2="96.3" y2="333.7" stroke="#ff5555" stroke-width="0.7"/>
<line x1="115.1" y1="308.9" x2="115.1" y2="318.9" stroke="#ff5555" stroke-width="0.7"/>
<line x1="113.4" y1="308.9" x2="116.8" y2="308.9" stroke="#ff5555" stroke-width="0.7"/>
<line x1="113.4" y1="318.9" x2="116.8" y2="318.9" stroke="#ff5555" stroke-width="0.7"/>
<line x1="136.2" y1="284.6" x2="136.2" y2="295.4" stroke="#ff5555" stroke-width="0.7"/>
<line x1="134.5" y1="284.6" x2="137.9" y2="284.6" stroke="#ff5555" stroke-width="0.7"/>
<line x1="134.5" y1="295.4" x2="137.9" y2="295.4" stroke="#ff5555" stroke-width="0.7"/>
<circle cx="52.8" cy="363.4" r="1.9" fill="#f00" stroke="none" stroke-width="0"/>
<circle cx="73.8" cy="330.4" r="1.9" fill="#f00" stroke="none" stroke-width="0"/>
<circle cx="94.6" cy="330.7" r="1.9" fill="#f00" stroke="none" stroke-width="0"/>
<circle cx="115.1" cy="313.9" r="1.9" fill="#f00" stroke="none" stroke-width="0"/>
<circle cx="136.2" cy="290" r="1.9" fill="#f00" stroke="none" stroke-width="0"/>
<line x1="48.2" y1="256.9" x2="58.4" y2="256.9" stroke="#6666ff" stroke-width="0.9"/>
<circle cx="53.6" cy="256.9" r="1.9" fill="#00f" stroke="none" stroke-width="0"/>
<text x="64.12" y="259.12" font-size="6.44" fill="#222">Control</text>
<line x1="50.4" y1="268.3" x2="59.9" y2="268.3" stroke="#ff5555" stroke-width="0.9"/>
<circle cx="55.2" cy="268.3" r="1.9" fill="#f00" stroke="none" stroke-width="0"/>
<text x="65.77" y="270.71" font-size="6.66" fill="#222">anti CD8 + Poly:IC + p38i</text>
<line x1="193.7" y1="316.1" x2="193.7" y2="252.5" stroke="#444" stroke-width="0.8"/>
<line x1="192.5" y1="316.1" x2="195" y2="316.1" stroke="#666" stroke-width="0.7"/>
<line x1="191.3" y1="304.5" x2="193.7" y2="304.5" stroke="#555" stroke-width="0.7"/>
<text x="173.57" y="306.88" font-size="6.9" fill="#222">4000</text>
<line x1="191.3" y1="282" x2="193.7" y2="282" stroke="#555" stroke-width="0.7"/>
<text x="173.57" y="284.38" font-size="6.9" fill="#222">5000</text>
<line x1="191.3" y1="259.5" x2="193.7" y2="259.5" stroke="#555" stroke-width="0.7"/>
<text x="173.57" y="261.88" font-size="6.9" fill="#222">6000</text>
<line x1="193.7" y1="346.5" x2="193.7" y2="322.3" stroke="#444" stroke-width="0.8"/>
<line x1="192.5" y1="322.3" x2="195.6" y2="322.3" stroke="#555" stroke-width="0.7"/>
<line x1="191.3" y1="346.5" x2="193.7" y2="346.5" stroke="#555" stroke-width="0.7"/>
<text x="185.08" y="348.88" font-size="6.9" fill="#222">0</text>
<line x1="191.3" y1="338.5" x2="193.7" y2="338.5" stroke="#555" stroke-width="0.7"/>
<text x="173.57" y="340.88" font-size="6.9" fill="#222">1000</text>
<line x1="191.3" y1="330.5" x2="193.7" y2="330.5" stroke="#555" stroke-width="0.7"/>
<text x="173.57" y="332.88" font-size="6.9" fill="#222">2000</text>
<line x1="191.3" y1="322.5" x2="193.7" y2="322.5" stroke="#555" stroke-width="0.7"/>
<text x="173.57" y="324.88" font-size="6.9" fill="#222">3000</text>
<line x1="193.3" y1="346.5" x2="313.5" y2="346.5" stroke="#666" stroke-width="0.8"/>
<line x1="207.6" y1="346.5" x2="207.6" y2="348.8" stroke="#555" stroke-width="0.7"/>
<text x="203.18" y="357.15" font-size="6.8" fill="#222">1:1</text>
<line x1="238.5" y1="346.5" x2="238.5" y2="348.8" stroke="#555" stroke-width="0.7"/>
<text x="234.09" y="357.15" font-size="6.8" fill="#222">1:2</text>
<line x1="268.6" y1="346.5" x2="268.6" y2="348.8" stroke="#555" stroke-width="0.7"/>
<text x="264.11" y="357.15" font-size="6.8" fill="#222">1:4</text>
<line x1="299.4" y1="346.5" x2="299.4" y2="348.8" stroke="#555" stroke-width="0.7"/>
<text x="295.11" y="357.15" font-size="6.8" fill="#222">0:1</text>
<text x="233.46" y="368.39" font-size="7.19" fill="#222">Ly6G:T cells</text>
<text x="0" y="0" font-size="7.08" fill="#222" transform="translate(169.84 307.11) rotate(-90)">CPM</text>
<line x1="197.9" y1="290.8" x2="197.9" y2="294.3" stroke="#00f" stroke-width="0.6"/>
<line x1="196.7" y1="290.8" x2="199.1" y2="290.8" stroke="#00f" stroke-width="0.6"/>
<line x1="195.7" y1="294.3" x2="200.1" y2="294.3" stroke="#222" stroke-width="0.7"/>
<circle cx="198.4" cy="286.6" r="1.3" fill="#00f" stroke="none" stroke-width="0"/>
<circle cx="197.3" cy="287.6" r="1.3" fill="#00f" stroke="none" stroke-width="0"/>
<circle cx="198.4" cy="300" r="1.3" fill="#00f" stroke="none" stroke-width="0"/>
<circle cx="197.3" cy="302.6" r="1.3" fill="#00f" stroke="none" stroke-width="0"/>
<line x1="204.7" y1="273.2" x2="204.7" y2="276.6" stroke="#f00" stroke-width="0.6"/>
<line x1="203.5" y1="273.2" x2="205.9" y2="273.2" stroke="#f00" stroke-width="0.6"/>
<line x1="202.5" y1="276.6" x2="206.9" y2="276.6" stroke="#222" stroke-width="0.7"/>
<circle cx="204.6" cy="270.3" r="1.3" fill="#f00" stroke="none" stroke-width="0"/>
<circle cx="205.4" cy="270" r="1.3" fill="#f00" stroke="none" stroke-width="0"/>
<circle cx="205.1" cy="281.4" r="1.3" fill="#f00" stroke="none" stroke-width="0"/>
<circle cx="204.2" cy="284.9" r="1.3" fill="#f00" stroke="none" stroke-width="0"/>
<line x1="228.6" y1="279.6" x2="228.6" y2="282" stroke="#00f" stroke-width="0.6"/>
<line x1="227.4" y1="279.6" x2="229.8" y2="279.6" stroke="#00f" stroke-width="0.6"/>
<line x1="226.4" y1="282" x2="230.8" y2="282" stroke="#222" stroke-width="0.7"/>
<circle cx="229" cy="275.1" r="1.3" fill="#00f" stroke="none" stroke-width="0"/>
<circle cx="228" cy="278.1" r="1.3" fill="#00f" stroke="none" stroke-width="0"/>
<circle cx="228.7" cy="281.7" r="1.3" fill="#00f" stroke="none" stroke-width="0"/>
<circle cx="228.7" cy="293.4" r="1.3" fill="#00f" stroke="none" stroke-width="0"/>
<line x1="235.3" y1="264.4" x2="235.3" y2="266.4" stroke="#f00" stroke-width="0.6"/>
<line x1="234.1" y1="264.4" x2="236.5" y2="264.4" stroke="#f00" stroke-width="0.6"/>
<line x1="233.1" y1="266.4" x2="237.5" y2="266.4" stroke="#222" stroke-width="0.7"/>
<circle cx="235.3" cy="261.3" r="1.3" fill="#f00" stroke="none" stroke-width="0"/>
<circle cx="234.6" cy="264.9" r="1.3" fill="#f00" stroke="none" stroke-width="0"/>
<circle cx="235" cy="270" r="1.3" fill="#f00" stroke="none" stroke-width="0"/>
<circle cx="236" cy="270.3" r="1.3" fill="#f00" stroke="none" stroke-width="0"/>
<line x1="258.9" y1="274.4" x2="258.9" y2="276.6" stroke="#00f" stroke-width="0.6"/>
<line x1="257.7" y1="274.4" x2="260.1" y2="274.4" stroke="#00f" stroke-width="0.6"/>
<line x1="256.7" y1="276.6" x2="261.1" y2="276.6" stroke="#222" stroke-width="0.7"/>
<circle cx="258.9" cy="269.9" r="1.3" fill="#00f" stroke="none" stroke-width="0"/>
<circle cx="257.9" cy="276" r="1.3" fill="#00f" stroke="none" stroke-width="0"/>
<circle cx="260" cy="277" r="1.3" fill="#00f" stroke="none" stroke-width="0"/>
<circle cx="258.9" cy="283.8" r="1.3" fill="#00f" stroke="none" stroke-width="0"/>
<line x1="265.5" y1="259.4" x2="265.5" y2="261.4" stroke="#f00" stroke-width="0.6"/>
<line x1="264.3" y1="259.4" x2="266.7" y2="259.4" stroke="#f00" stroke-width="0.6"/>
<line x1="263.3" y1="261.4" x2="267.7" y2="261.4" stroke="#222" stroke-width="0.7"/>
<circle cx="265.6" cy="256.6" r="1.3" fill="#f00" stroke="none" stroke-width="0"/>
<circle cx="266.2" cy="257.6" r="1.3" fill="#f00" stroke="none" stroke-width="0"/>
<circle cx="265.9" cy="265" r="1.3" fill="#f00" stroke="none" stroke-width="0"/>
<circle cx="264.8" cy="267.8" r="1.3" fill="#f00" stroke="none" stroke-width="0"/>
<text x="203.63" y="267.82" font-size="5" fill="#222">*</text>
<text x="234.73" y="259.52" font-size="5" fill="#222">*</text>
<text x="264.53" y="254.72" font-size="5" fill="#222">*</text>
<polygon points="300.2,264.9 305,265 304.6,268.5 303.8,271.9 300,271.9" fill="#000"/>
<rect x="307.4" y="343.3" width="3.2" height="3.2" fill="#080"/>
<circle cx="303" cy="301.6" r="1.3" fill="#00f" stroke="none" stroke-width="0"/>
<text x="312.9" y="304.13" font-size="6.9" fill="#222">Control</text>
<circle cx="303" cy="308" r="1.3" fill="#f00" stroke="none" stroke-width="0"/>
<text x="313.1" y="311.08" font-size="6.9" fill="#222">Treatment</text>
<rect x="301.4" y="313.3" width="3.2" height="3.2" fill="#000"/>
<text x="312.68" y="317.88" font-size="6.9" fill="#222">Positive Control</text>
<rect x="301.4" y="319.9" width="3.2" height="3.2" fill="#080"/>
<text x="312.68" y="324.28" font-size="6.9" fill="#222">Negative Control</text>
<line x1="393.1" y1="348.3" x2="393.1" y2="258.5" stroke="#444" stroke-width="0.8"/>
<line x1="390.6" y1="348.3" x2="393.1" y2="348.3" stroke="#555" stroke-width="0.7"/>
<text x="384.83" y="350.72" font-size="7" fill="#222">0</text>
<line x1="390.6" y1="325.85" x2="393.1" y2="325.85" stroke="#555" stroke-width="0.7"/>
<text x="377.05" y="328.27" font-size="7" fill="#222">100</text>
<line x1="390.6" y1="303.4" x2="393.1" y2="303.4" stroke="#555" stroke-width="0.7"/>
<text x="377.05" y="305.82" font-size="7" fill="#222">200</text>
<line x1="390.6" y1="280.95" x2="393.1" y2="280.95" stroke="#555" stroke-width="0.7"/>
<text x="377.05" y="283.37" font-size="7" fill="#222">300</text>
<line x1="390.6" y1="258.5" x2="393.1" y2="258.5" stroke="#555" stroke-width="0.7"/>
<text x="377.05" y="260.92" font-size="7" fill="#222">400</text>
<line x1="392.7" y1="348.3" x2="528" y2="348.3" stroke="#555" stroke-width="0.8"/>
<line x1="393.1" y1="348.3" x2="393.1" y2="350.6" stroke="#555" stroke-width="0.7"/>
<line x1="415.59" y1="348.3" x2="415.59" y2="350.6" stroke="#555" stroke-width="0.7"/>
<line x1="438.07" y1="348.3" x2="438.07" y2="350.6" stroke="#555" stroke-width="0.7"/>
<line x1="460.56" y1="348.3" x2="460.56" y2="350.6" stroke="#555" stroke-width="0.7"/>
<line x1="483.04" y1="348.3" x2="483.04" y2="350.6" stroke="#555" stroke-width="0.7"/>
<line x1="505.53" y1="348.3" x2="505.53" y2="350.6" stroke="#555" stroke-width="0.7"/>
<line x1="528.01" y1="348.3" x2="528.01" y2="350.6" stroke="#555" stroke-width="0.7"/>
<text x="391.25" y="358.89" font-size="6.65" fill="#222">0</text>
<text x="434.25" y="358.89" font-size="6.65" fill="#222">10</text>
<text x="479.31" y="358.89" font-size="6.65" fill="#222">20</text>
<text x="524.32" y="358.89" font-size="6.65" fill="#222">30</text>
<text x="452.8" y="367.52" font-size="6.67" fill="#222">Days</text>
<text x="0" y="0" font-size="7.51" fill="#222" transform="translate(373.59 333.72) rotate(-90)">Tumor Area (mm<tspan font-size="4.66" dy="-4.66">2</tspan><tspan dy="4.66">)</tspan></text>
<polyline points="393.1,348.3 438.1,339.3 447.1,335 456.1,333.5 469.2,332.1 478.4,328 487.6,326.2 501,319.4 510.1,313 519.3,306.7" stroke="#00e000" stroke-width="0.6" fill="none" stroke-linejoin="round"/>
<line x1="469.2" y1="330.1" x2="469.2" y2="334.1" stroke="#555" stroke-width="0.6"/>
<line x1="468" y1="330.1" x2="470.4" y2="330.1" stroke="#555" stroke-width="0.6"/>
<line x1="468" y1="334.1" x2="470.4" y2="334.1" stroke="#555" stroke-width="0.6"/>
<line x1="478.4" y1="325" x2="478.4" y2="331" stroke="#555" stroke-width="0.6"/>
<line x1="477.2" y1="325" x2="479.6" y2="325" stroke="#555" stroke-width="0.6"/>
<line x1="477.2" y1="331" x2="479.6" y2="331" stroke="#555" stroke-width="0.6"/>
<line x1="487.6" y1="322.2" x2="487.6" y2="330.2" stroke="#555" stroke-width="0.6"/>
<line x1="486.4" y1="322.2" x2="488.8" y2="322.2" stroke="#555" stroke-width="0.6"/>
<line x1="486.4" y1="330.2" x2="488.8" y2="330.2" stroke="#555" stroke-width="0.6"/>
<line x1="501" y1="314.4" x2="501" y2="324.4" stroke="#555" stroke-width="0.6"/>
<line x1="499.8" y1="314.4" x2="502.2" y2="314.4" stroke="#555" stroke-width="0.6"/>
<line x1="499.8" y1="324.4" x2="502.2" y2="324.4" stroke="#555" stroke-width="0.6"/>
<line x1="510.1" y1="306" x2="510.1" y2="320" stroke="#555" stroke-width="0.6"/>
<line x1="508.9" y1="306" x2="511.3" y2="306" stroke="#555" stroke-width="0.6"/>
<line x1="508.9" y1="320" x2="511.3" y2="320" stroke="#555" stroke-width="0.6"/>
<line x1="519.3" y1="297.7" x2="519.3" y2="315.7" stroke="#555" stroke-width="0.6"/>
<line x1="518.1" y1="297.7" x2="520.5" y2="297.7" stroke="#555" stroke-width="0.6"/>
<line x1="518.1" y1="315.7" x2="520.5" y2="315.7" stroke="#555" stroke-width="0.6"/>
<circle cx="393.1" cy="348.3" r="0.9" fill="#00e000" stroke="none" stroke-width="0"/>
<circle cx="438.1" cy="339.3" r="0.9" fill="#00e000" stroke="none" stroke-width="0"/>
<circle cx="447.1" cy="335" r="0.9" fill="#00e000" stroke="none" stroke-width="0"/>
<circle cx="456.1" cy="333.5" r="0.9" fill="#00e000" stroke="none" stroke-width="0"/>
<circle cx="469.2" cy="332.1" r="0.9" fill="#00e000" stroke="none" stroke-width="0"/>
<circle cx="478.4" cy="328" r="0.9" fill="#00e000" stroke="none" stroke-width="0"/>
<circle cx="487.6" cy="326.2" r="0.9" fill="#00e000" stroke="none" stroke-width="0"/>
<circle cx="501" cy="319.4" r="0.9" fill="#00e000" stroke="none" stroke-width="0"/>
<circle cx="510.1" cy="313" r="0.9" fill="#00e000" stroke="none" stroke-width="0"/>
<circle cx="519.3" cy="306.7" r="0.9" fill="#00e000" stroke="none" stroke-width="0"/>
<polyline points="393.1,348.3 438.1,339 447.1,335 456.1,331.5 469.2,331.7 478.4,325 487.6,323.1 501,315.3 510.1,302 519.3,292.1" stroke="#00f" stroke-width="0.6" fill="none" stroke-linejoin="round"/>
<line x1="456.1" y1="329.5" x2="456.1" y2="333.5" stroke="#555" stroke-width="0.6"/>
<line x1="454.9" y1="329.5" x2="457.3" y2="329.5" stroke="#555" stroke-width="0.6"/>
<line x1="454.9" y1="333.5" x2="457.3" y2="333.5" stroke="#555" stroke-width="0.6"/>
<line x1="469.2" y1="329.7" x2="469.2" y2="333.7" stroke="#555" stroke-width="0.6"/>
<line x1="468" y1="329.7" x2="470.4" y2="329.7" stroke="#555" stroke-width="0.6"/>
<line x1="468" y1="333.7" x2="470.4" y2="333.7" stroke="#555" stroke-width="0.6"/>
<line x1="478.4" y1="322" x2="478.4" y2="328" stroke="#555" stroke-width="0.6"/>
<line x1="477.2" y1="322" x2="479.6" y2="322" stroke="#555" stroke-width="0.6"/>
<line x1="477.2" y1="328" x2="479.6" y2="328" stroke="#555" stroke-width="0.6"/>
<line x1="487.6" y1="319.1" x2="487.6" y2="327.1" stroke="#555" stroke-width="0.6"/>
<line x1="486.4" y1="319.1" x2="488.8" y2="319.1" stroke="#555" stroke-width="0.6"/>
<line x1="486.4" y1="327.1" x2="488.8" y2="327.1" stroke="#555" stroke-width="0.6"/>
<line x1="501" y1="310.3" x2="501" y2="320.3" stroke="#555" stroke-width="0.6"/>
<line x1="499.8" y1="310.3" x2="502.2" y2="310.3" stroke="#555" stroke-width="0.6"/>
<line x1="499.8" y1="320.3" x2="502.2" y2="320.3" stroke="#555" stroke-width="0.6"/>
<line x1="510.1" y1="295" x2="510.1" y2="309" stroke="#555" stroke-width="0.6"/>
<line x1="508.9" y1="295" x2="511.3" y2="295" stroke="#555" stroke-width="0.6"/>
<line x1="508.9" y1="309" x2="511.3" y2="309" stroke="#555" stroke-width="0.6"/>
<line x1="519.3" y1="284.1" x2="519.3" y2="300.1" stroke="#555" stroke-width="0.6"/>
<line x1="518.1" y1="284.1" x2="520.5" y2="284.1" stroke="#555" stroke-width="0.6"/>
<line x1="518.1" y1="300.1" x2="520.5" y2="300.1" stroke="#555" stroke-width="0.6"/>
<circle cx="393.1" cy="348.3" r="1.1" fill="#00f" stroke="none" stroke-width="0"/>
<circle cx="438.1" cy="339" r="1.1" fill="#00f" stroke="none" stroke-width="0"/>
<circle cx="447.1" cy="335" r="1.1" fill="#00f" stroke="none" stroke-width="0"/>
<circle cx="456.1" cy="331.5" r="1.1" fill="#00f" stroke="none" stroke-width="0"/>
<circle cx="469.2" cy="331.7" r="1.1" fill="#00f" stroke="none" stroke-width="0"/>
<circle cx="478.4" cy="325" r="1.1" fill="#00f" stroke="none" stroke-width="0"/>
<circle cx="487.6" cy="323.1" r="1.1" fill="#00f" stroke="none" stroke-width="0"/>
<circle cx="501" cy="315.3" r="1.1" fill="#00f" stroke="none" stroke-width="0"/>
<circle cx="510.1" cy="302" r="1.1" fill="#00f" stroke="none" stroke-width="0"/>
<circle cx="519.3" cy="292.1" r="1.1" fill="#00f" stroke="none" stroke-width="0"/>
<polyline points="393.1,348.3 438.1,337.8 447.1,332.6 456.1,337.5 469.2,336.8 478.4,338.2 487.6,338.4 501,337.4 510.1,337.4 519.3,337.4" stroke="#f00" stroke-width="0.6" fill="none" stroke-linejoin="round"/>
<line x1="487.6" y1="336.4" x2="487.6" y2="340.4" stroke="#555" stroke-width="0.6"/>
<line x1="486.4" y1="336.4" x2="488.8" y2="336.4" stroke="#555" stroke-width="0.6"/>
<line x1="486.4" y1="340.4" x2="488.8" y2="340.4" stroke="#555" stroke-width="0.6"/>
<line x1="519.3" y1="335.4" x2="519.3" y2="339.4" stroke="#555" stroke-width="0.6"/>
<line x1="518.1" y1="335.4" x2="520.5" y2="335.4" stroke="#555" stroke-width="0.6"/>
<line x1="518.1" y1="339.4" x2="520.5" y2="339.4" stroke="#555" stroke-width="0.6"/>
<rect x="391.7" y="346.9" width="2.8" height="2.8" fill="#f00"/>
<rect x="436.7" y="336.4" width="2.8" height="2.8" fill="#f00"/>
<rect x="445.7" y="331.2" width="2.8" height="2.8" fill="#f00"/>
<rect x="454.7" y="336.1" width="2.8" height="2.8" fill="#f00"/>
<rect x="467.8" y="335.4" width="2.8" height="2.8" fill="#f00"/>
<rect x="477" y="336.8" width="2.8" height="2.8" fill="#f00"/>
<rect x="486.2" y="337" width="2.8" height="2.8" fill="#f00"/>
<rect x="499.6" y="336" width="2.8" height="2.8" fill="#f00"/>
<rect x="508.7" y="336" width="2.8" height="2.8" fill="#f00"/>
<rect x="517.9" y="336" width="2.8" height="2.8" fill="#f00"/>
<polyline points="393.1,348.3 438.1,339.8 447.1,335.3 456.1,332.6 469.2,327.6 478.4,323.3 487.6,315 501,306.5 510.1,288.4 519.3,272.1" stroke="#000" stroke-width="0.6" fill="none" stroke-linejoin="round"/>
<line x1="456.1" y1="329.6" x2="456.1" y2="335.6" stroke="#555" stroke-width="0.6"/>
<line x1="454.9" y1="329.6" x2="457.3" y2="329.6" stroke="#555" stroke-width="0.6"/>
<line x1="454.9" y1="335.6" x2="457.3" y2="335.6" stroke="#555" stroke-width="0.6"/>
<line x1="469.2" y1="325.6" x2="469.2" y2="329.6" stroke="#555" stroke-width="0.6"/>
<line x1="468" y1="325.6" x2="470.4" y2="325.6" stroke="#555" stroke-width="0.6"/>
<line x1="468" y1="329.6" x2="470.4" y2="329.6" stroke="#555" stroke-width="0.6"/>
<line x1="478.4" y1="319.3" x2="478.4" y2="327.3" stroke="#555" stroke-width="0.6"/>
<line x1="477.2" y1="319.3" x2="479.6" y2="319.3" stroke="#555" stroke-width="0.6"/>
<line x1="477.2" y1="327.3" x2="479.6" y2="327.3" stroke="#555" stroke-width="0.6"/>
<line x1="487.6" y1="310" x2="487.6" y2="320" stroke="#555" stroke-width="0.6"/>
<line x1="486.4" y1="310" x2="488.8" y2="310" stroke="#555" stroke-width="0.6"/>
<line x1="486.4" y1="320" x2="488.8" y2="320" stroke="#555" stroke-width="0.6"/>
<line x1="501" y1="300.5" x2="501" y2="312.5" stroke="#555" stroke-width="0.6"/>
<line x1="499.8" y1="300.5" x2="502.2" y2="300.5" stroke="#555" stroke-width="0.6"/>
<line x1="499.8" y1="312.5" x2="502.2" y2="312.5" stroke="#555" stroke-width="0.6"/>
<line x1="510.1" y1="280.4" x2="510.1" y2="296.4" stroke="#555" stroke-width="0.6"/>
<line x1="508.9" y1="280.4" x2="511.3" y2="280.4" stroke="#555" stroke-width="0.6"/>
<line x1="508.9" y1="296.4" x2="511.3" y2="296.4" stroke="#555" stroke-width="0.6"/>
<line x1="519.3" y1="263.1" x2="519.3" y2="281.1" stroke="#555" stroke-width="0.6"/>
<line x1="518.1" y1="263.1" x2="520.5" y2="263.1" stroke="#555" stroke-width="0.6"/>
<line x1="518.1" y1="281.1" x2="520.5" y2="281.1" stroke="#555" stroke-width="0.6"/>
<circle cx="393.1" cy="348.3" r="1.4" fill="#000" stroke="none" stroke-width="0"/>
<circle cx="438.1" cy="339.8" r="1.4" fill="#000" stroke="none" stroke-width="0"/>
<circle cx="447.1" cy="335.3" r="1.4" fill="#000" stroke="none" stroke-width="0"/>
<circle cx="456.1" cy="332.6" r="1.4" fill="#000" stroke="none" stroke-width="0"/>
<circle cx="469.2" cy="327.6" r="1.4" fill="#000" stroke="none" stroke-width="0"/>
<circle cx="478.4" cy="323.3" r="1.4" fill="#000" stroke="none" stroke-width="0"/>
<circle cx="487.6" cy="315" r="1.4" fill="#000" stroke="none" stroke-width="0"/>
<circle cx="501" cy="306.5" r="1.4" fill="#000" stroke="none" stroke-width="0"/>
<circle cx="510.1" cy="288.4" r="1.4" fill="#000" stroke="none" stroke-width="0"/>
<circle cx="519.3" cy="272.1" r="1.4" fill="#000" stroke="none" stroke-width="0"/>
<path d="M522.3 306.5 H527.4 V335.4 H522.3" stroke="#777" stroke-width="0.8" fill="none"/>
<text x="529.86" y="323.55" font-size="5.95" fill="#222">&lt;0.0001</text>
<line x1="400.5" y1="252.3" x2="410" y2="252.3" stroke="#000" stroke-width="0.7"/>
<circle cx="405.2" cy="252.3" r="1.35" fill="#000" stroke="none" stroke-width="0"/>
<text x="415.62" y="255" font-size="5.8" fill="#222">IFNAR1<tspan x="437.0" font-size="2.7" dy="-2.2">fl/fl</tspan><tspan x="439.7" dy="2.2">Cre</tspan><tspan x="449.5" font-size="3.6" dy="-2.0">-</tspan><tspan x="454.47" dy="2.0">Vehicle</tspan></text>
<line x1="400.5" y1="261.1" x2="410" y2="261.1" stroke="#f00" stroke-width="0.7"/>
<rect x="403.85" y="259.75" width="2.7" height="2.7" fill="#f00"/>
<text x="415.62" y="263.6" font-size="5.8" fill="#222">IFNAR1<tspan x="437.0" font-size="2.7" dy="-2.2">fl/fl</tspan><tspan x="439.7" dy="2.2">Cre</tspan><tspan x="449.5" font-size="3.6" dy="-2.0">-</tspan><tspan x="454.02" dy="2.0">Poly:IC + p38i</tspan></text>
<line x1="400.5" y1="270.8" x2="410" y2="270.8" stroke="#00f" stroke-width="0.7"/>
<polygon points="405.2,269.1 406.8,271.8 403.6,271.8" fill="#00f"/>
<text x="415.62" y="272.6" font-size="5.8" fill="#222">IFNAR1<tspan x="437.0" font-size="2.7" dy="-2.2">fl/fl</tspan><tspan x="439.7" dy="2.2">Cre</tspan><tspan x="451" font-size="3.6" dy="-2.0">+</tspan><tspan x="455.57" dy="2.0">Vehicle</tspan></text>
<line x1="400.5" y1="280" x2="410" y2="280" stroke="#00e000" stroke-width="0.7"/>
<circle cx="405.2" cy="280" r="0.9" fill="#00e000" stroke="none" stroke-width="0"/>
<text x="415.62" y="281.8" font-size="5.8" fill="#222">IFNAR1<tspan x="437.0" font-size="2.7" dy="-2.2">fl/fl</tspan><tspan x="439.7" dy="2.2">Cre</tspan><tspan x="451" font-size="3.6" dy="-2.0">+</tspan><tspan x="455.22" dy="2.0">poly:IC + p38i</tspan></text>
</svg>
</body></html>
